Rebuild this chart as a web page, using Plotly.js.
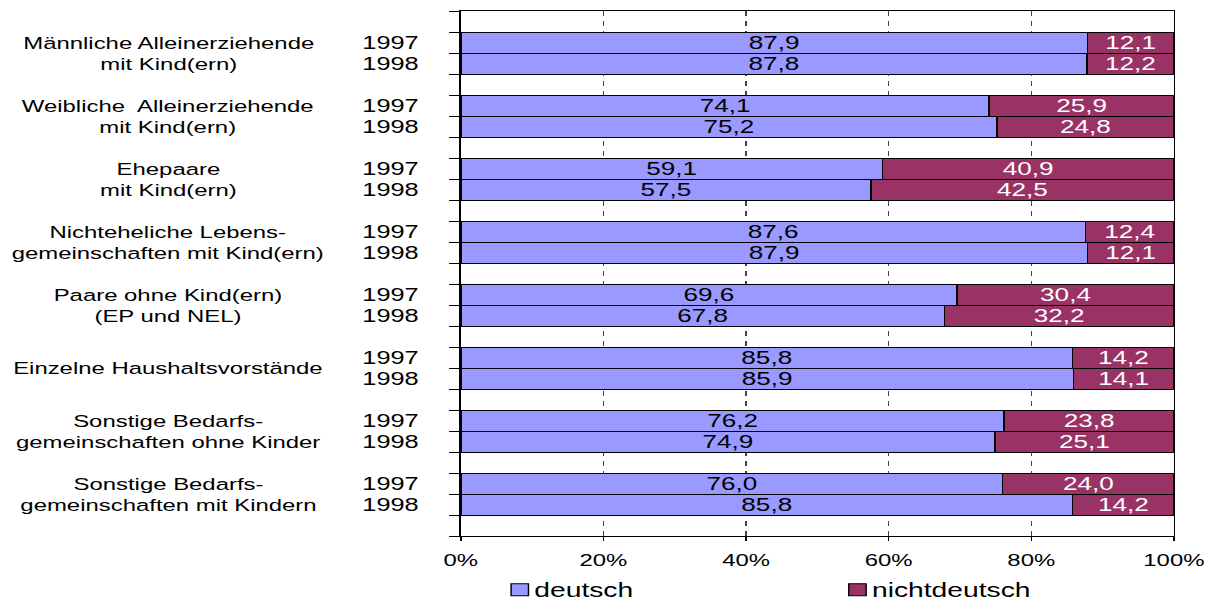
<!DOCTYPE html>
<html>
<head>
<meta charset="utf-8">
<script src="https://cdn.plot.ly/plotly-3.0.1.min.js"></script>
<style>
  html, body { margin: 0; padding: 0; background: #fff; overflow: hidden; }
  #wrap { width: 1213px; height: 601px; overflow: hidden; }
  #chart { width: 837px; height: 601px; transform-origin: 0 0; }
  #chart .legendtext { transform: translateX(-10px); }
</style>
</head>
<body>
<div id="wrap"><div id="chart"></div></div>
<script>
// ---- data ----
const groupLabels = [
  "Männliche Alleinerziehende<br>mit Kind(ern)",
  "Weibliche\u00a0 Alleinerziehende<br>mit Kind(ern)",
  "Ehepaare<br>mit Kind(ern)",
  "Nichteheliche Lebens-<br>gemeinschaften mit Kind(ern)",
  "Paare ohne Kind(ern)<br>(EP und NEL)",
  "Einzelne Haushaltsvorstände",
  "Sonstige Bedarfs-<br>gemeinschaften ohne Kinder",
  "Sonstige Bedarfs-<br>gemeinschaften mit Kindern"
];
const years = ["1997", "1998"];
const deutsch1997 = [87.9, 74.1, 59.1, 87.6, 69.6, 85.8, 76.2, 76.0];
const deutsch1998 = [87.8, 75.2, 57.5, 87.9, 67.8, 85.9, 74.9, 85.8];
const nichtdeutsch1997 = [12.1, 25.9, 40.9, 12.4, 30.4, 14.2, 23.8, 24.0];
const nichtdeutsch1998 = [12.2, 24.8, 42.5, 12.1, 32.2, 14.1, 25.1, 14.2];
const xTicks = [0, 20, 40, 60, 80, 100];
const seriesNames = ["deutsch", "nichtdeutsch"];

// ---- build ----
const STRETCH = 1213 / 837;
document.getElementById('chart').style.transform = 'scaleX(' + STRETCH + ')';

const FONT = "Liberation Sans, Arial, sans-serif";
const nSlots = groupLabels.length * 3 + 1;
const yPos = [], dVals = [], nVals = [];
groupLabels.forEach((g, i) => {
  yPos.push(3 * i + 1.5, 3 * i + 2.5);
  dVals.push(deutsch1997[i], deutsch1998[i]);
  nVals.push(nichtdeutsch1997[i], nichtdeutsch1998[i]);
});
const fmt = v => v.toFixed(1).replace('.', ',');

const common = {
  type: 'bar', orientation: 'h', width: 1, y: yPos,
  textposition: 'inside', insidetextanchor: 'middle', textangle: 0,
  constraintext: 'none', hoverinfo: 'skip'
};
const traces = [
  Object.assign({}, common, {
    name: seriesNames[0], x: dVals, text: dVals.map(fmt),
    marker: { color: '#9999FF', line: { color: '#000', width: 1 } },
    textfont: { family: FONT, size: 18, color: '#000' }
  }),
  Object.assign({}, common, {
    name: seriesNames[1], x: nVals, text: nVals.map(fmt),
    marker: { color: '#993366', line: { color: '#000', width: 1 } },
    textfont: { family: FONT, size: 18, color: '#fff' }
  })
];

const annotations = [];
groupLabels.forEach((g, i) => {
  annotations.push({
    xref: 'paper', yref: 'y', x: -0.41, y: 3 * i + 2,
    xanchor: 'center', yanchor: 'middle', showarrow: false, align: 'center',
    text: g, font: { family: FONT, size: 16.5, color: '#000' }
  });
  years.forEach((yr, k) => {
    annotations.push({
      xref: 'paper', yref: 'y', x: -0.0545, y: 3 * i + 1.5 + k,
      xanchor: 'right', yanchor: 'middle', showarrow: false,
      text: yr, font: { family: FONT, size: 17.5, color: '#000' }
    });
  });
});

const layout = {
  width: 837, height: 601,
  margin: { l: 318, r: 27, t: 11, b: 65, autoexpand: false },
  paper_bgcolor: '#fff', plot_bgcolor: '#fff',
  barmode: 'stack', bargap: 0,
  font: { family: FONT, color: '#000' },
  xaxis: {
    range: [0, 100], tickvals: xTicks, ticktext: xTicks.map(v => v + '%'),
    ticks: 'outside', ticklen: 4, tickcolor: '#000',
    showline: true, linecolor: '#000', linewidth: 1, mirror: true,
    showgrid: true, gridcolor: '#444', griddash: '5px,5px', gridwidth: 1,
    zeroline: false, tickfont: { family: FONT, size: 16.5, color: '#000' },
    ticklabelstandoff: 5, fixedrange: true
  },
  yaxis: {
    range: [nSlots, 0], tickvals: Array.from({ length: nSlots + 1 }, (_, i) => i),
    showticklabels: false, ticks: 'outside', ticklen: 7, tickcolor: '#000',
    showline: true, linecolor: '#000', linewidth: 1, mirror: true,
    showgrid: false, zeroline: false, fixedrange: true
  },
  showlegend: true,
  legend: {
    orientation: 'h', x: 0.042, xanchor: 'left', y: -0.103, yanchor: 'middle',
    entrywidth: 188, entrywidthmode: 'pixels', bgcolor: 'rgba(0,0,0,0)',
    font: { family: FONT, size: 19.5, color: '#000' }, traceorder: 'normal'
  },
  annotations: annotations
};

Plotly.newPlot('chart', traces, layout, { displayModeBar: false, staticPlot: true });
</script>
</body>
</html>
